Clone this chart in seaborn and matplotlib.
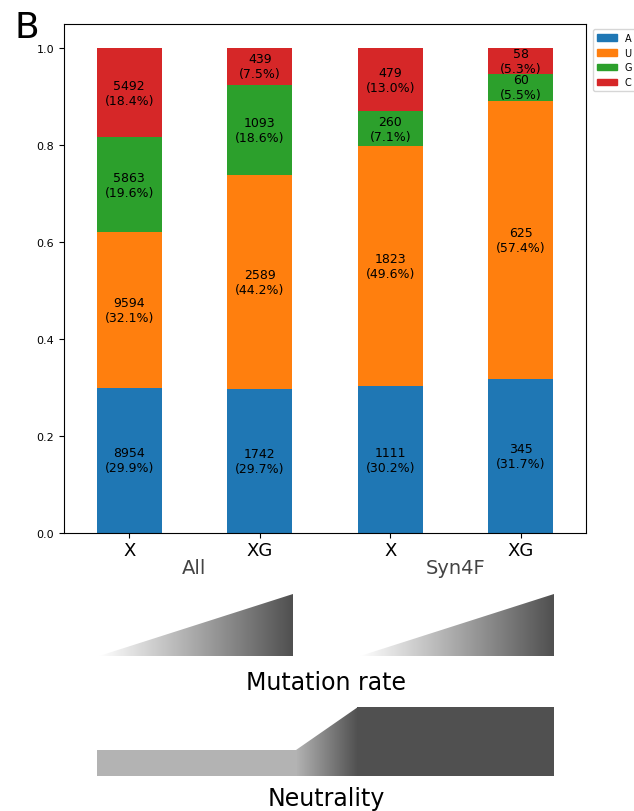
import numpy as np
import pandas as pd
import matplotlib
matplotlib.use("Agg")
import matplotlib.pyplot as plt
import seaborn as sns
from matplotlib.colors import LinearSegmentedColormap
from matplotlib.patches import Polygon, Patch

# ---- data ----
groups = ["All", "All", "Syn4F", "Syn4F"]
contexts = ["X", "XG", "X", "XG"]
nucleotides = ["A", "U", "G", "C"]
count_A = [8954, 1742, 1111, 345]
count_U = [9594, 2589, 1823, 625]
count_G = [5863, 1093, 260, 60]
count_C = [5492, 439, 479, 58]
group_names = ["All", "Syn4F"]
colors = ["#1f77b4", "#ff7f0e", "#2ca02c", "#d62728"]

W, H = 634, 812
fig = plt.figure(figsize=(W / 100, H / 100), dpi=100)
ax = fig.add_axes([64 / W, 1 - 534 / H, (586 - 64) / W, (534 - 25) / H])

keys = [f"{g} {c}" for g, c in zip(groups, contexts)]
counts = np.array([count_A, count_U, count_G, count_C], dtype=float)
totals = counts.sum(axis=0)
fracs = counts / totals
bottom = np.zeros(len(keys))
for i, nt in enumerate(nucleotides):
    df = pd.DataFrame({"key": keys, "frac": fracs[i]})
    sns.barplot(data=df, x="key", y="frac", order=keys, bottom=bottom,
                color=colors[i], width=0.5, errorbar=None, saturation=1, ax=ax)
    cont = ax.containers[-1]
    for j, bar in enumerate(cont):
        ax.text(bar.get_x() + bar.get_width() / 2, bottom[j] + fracs[i][j] / 2,
                f"{int(counts[i][j])}\n({fracs[i][j] * 100:.1f}%)",
                ha="center", va="center", fontsize=9)
    bottom = bottom + fracs[i]

ax.set_xlim(-0.5, 3.5)
ax.set_ylim(0, 1.05)
ax.set_xlabel("")
ax.set_ylabel("")
ax.set_xticks(range(len(keys)))
ax.set_xticklabels(contexts, fontsize=13)
ax.tick_params(axis="x", pad=2)
ax.set_yticks([0, 0.2, 0.4, 0.6, 0.8, 1.0])
ax.set_yticklabels([f"{v:.1f}" for v in [0, 0.2, 0.4, 0.6, 0.8, 1.0]], fontsize=8)
for k, g in enumerate(group_names):
    ax.text(2 * k + 0.5, -0.067, g, transform=ax.get_xaxis_transform(),
            ha="center", va="center", fontsize=14, color="#444444")

ax.legend(handles=[Patch(color=c, label=n) for c, n in zip(colors, nucleotides)],
          loc="upper left", bbox_to_anchor=(1.005, 1.0), fontsize=7)

fig.text(14 / W, 1 - 28 / H, "B", fontsize=26, va="center", ha="left")

# ---- schematic below ----
ov = fig.add_axes([0, 0, 1, 1], zorder=-1)
ov.axis("off")
grad = np.linspace(0, 1, 256).reshape(1, -1)
cm_tri = LinearSegmentedColormap.from_list("tri", ["#ffffff", "#505050"])
cm_neu = LinearSegmentedColormap.from_list("neu", ["#b3b3b3", "#505050"])

for (x0, x1) in [(99, 293), (360, 554)]:
    tri = Polygon([(x0, 657), (x1, 657), (x1, 595)], closed=True, facecolor="none", edgecolor="none")
    ov.add_patch(tri)
    im = ov.imshow(grad, cmap=cm_tri, extent=(x0, x1, 657, 595), aspect="auto", interpolation="bilinear")
    im.set_clip_path(tri)

ov.add_patch(Polygon([(97, 751), (297, 751), (297, 777), (97, 777)], closed=True,
                     facecolor="#b3b3b3", edgecolor="none"))
trans = Polygon([(296, 777), (296, 751), (358, 708), (358, 777)], closed=True,
                facecolor="none", edgecolor="none")
ov.add_patch(trans)
im2 = ov.imshow(grad, cmap=cm_neu, extent=(296, 358, 777, 708), aspect="auto", interpolation="bilinear")
im2.set_clip_path(trans)
ov.add_patch(Polygon([(357, 708), (554, 708), (554, 777), (357, 777)], closed=True,
                     facecolor="#505050", edgecolor="none"))

ov.text(326, 683, "Mutation rate", ha="center", va="center", fontsize=17)
ov.text(326, 811, "Neutrality", ha="center", va="bottom", fontsize=17)
ov.set_xlim(0, W)
ov.set_ylim(H, 0)

fig.savefig("out.png", dpi=100)
